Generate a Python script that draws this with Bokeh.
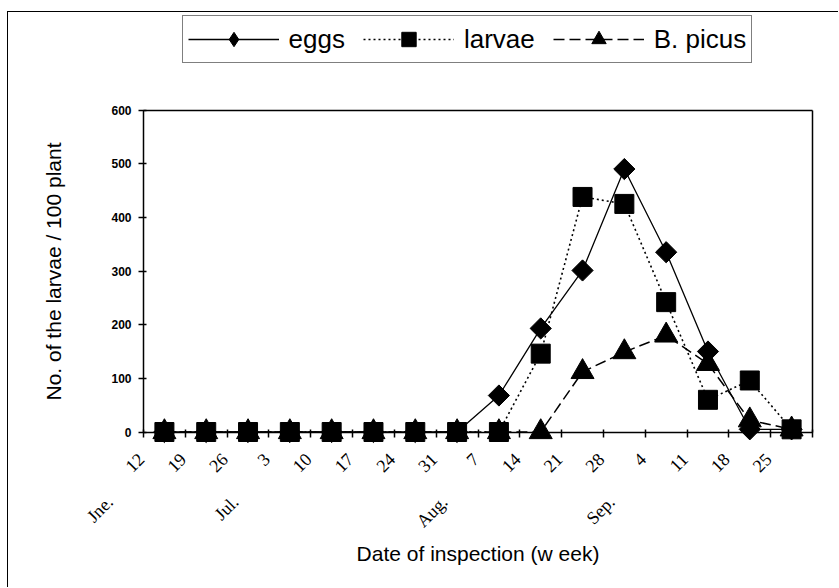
from math import pi
from bokeh.plotting import figure
from bokeh.models import (Range1d, FixedTicker, Legend, LegendItem,
                          ColumnDataSource, LinearAxis)
from bokeh.embed import file_html
from bokeh.resources import INLINE

# ---- data ----
dates = ["12", "19", "26", "3", "10", "17", "24", "31",
         "7", "14", "21", "28", "4", "11", "18", "25"]
months = ["Jne.", "Jul.", "Aug.", "Sep."]
month_at = [0, 3, 8, 12]
eggs = [0, 0, 0, 0, 0, 0, 0, 0, 68, 193, 301, 490, 335, 150, 5, 5]
larvae = [0, 0, 0, 0, 0, 0, 0, 0, 0, 146, 438, 425, 242, 60, 96, 5]
b_picus = [0, 0, 0, 0, 0, 0, 0, 0, 0, 0, 112, 149, 180, 127, 22, 5]
y_ticks = [0, 100, 200, 300, 400, 500, 600]

# ---- layout (pixels) ----
W, H = 830, 575            # canvas == frame
AXIS_LEFT = 135            # y axis position from canvas left
AXIS_TOP = 97.5            # 600-line position from canvas top
PLOT_W, PLOT_H = 669, 322  # plot-area size
LABEL_SHIFT = 0.56         # date labels end left of category centre (categories)
MONTH_SHIFT = 1.3          # month labels end further left (categories)

n = len(dates)
y_max = y_ticks[-1]
cat_px = PLOT_W / n
unit_px = PLOT_H / y_max
x0 = -AXIS_LEFT / cat_px
x1 = x0 + W / cat_px
y1 = y_max + AXIS_TOP / unit_px
y0 = y1 - H / unit_px

x = [i + 0.5 for i in range(n)]

p = figure(frame_width=W, frame_height=H,
           x_range=Range1d(x0, x1), y_range=Range1d(y0, y1),
           output_backend="svg", toolbar_location=None, min_border=0)
p.grid.visible = False
p.outline_line_color = None
p.background_fill_color = "white"
p.border_fill_color = "white"
p.styles = {"margin-left": "7px", "margin-top": "11px",
            "border-top": "1.5px solid black", "border-left": "1.5px solid black"}

SANS = "Liberation Sans"
SERIF = "Liberation Serif"

# x axis: line, ticks between categories, title
xa = p.xaxis[0]
xa.fixed_location = 0
xa.bounds = (0, n)
xa.ticker = FixedTicker(ticks=[], minor_ticks=list(range(n + 1)))
xa.major_tick_line_color = None
xa.major_tick_in = 0
xa.major_tick_out = 0
xa.minor_tick_in = 3
xa.minor_tick_out = 5
xa.minor_tick_line_color = "black"
xa.minor_tick_line_width = 1.5
xa.axis_line_width = 1.5
xa.axis_line_color = "black"
xa.major_label_standoff = 0
xa.major_label_text_font_size = "0px"
xa.axis_label = "Date of inspection (w eek)"
xa.axis_label_text_font = SANS
xa.axis_label_text_font_size = "21px"
xa.axis_label_text_font_style = "normal"
xa.axis_label_text_color = "black"
xa.axis_label_standoff = 104

# date labels
lab_pos = [i + 0.5 - LABEL_SHIFT for i in range(n)]
da = LinearAxis(fixed_location=0, ticker=FixedTicker(ticks=lab_pos),
                major_label_overrides={pos: d for pos, d in zip(lab_pos, dates)},
                major_label_orientation=pi / 4,
                axis_line_color=None, major_tick_line_color=None,
                minor_tick_line_color=None, major_tick_in=0, major_tick_out=0,
                minor_tick_in=0, minor_tick_out=0,
                major_label_standoff=24, major_label_text_font=SERIF,
                major_label_text_font_size="18px", major_label_text_color="black")
p.add_layout(da, "below")

# month labels
month_pos = [i + 0.5 - MONTH_SHIFT for i in month_at]
ma = LinearAxis(fixed_location=0, ticker=FixedTicker(ticks=month_pos),
                major_label_overrides={pos: m for pos, m in zip(month_pos, months)},
                major_label_orientation=pi / 4,
                axis_line_color=None, major_tick_line_color=None,
                minor_tick_line_color=None, major_tick_in=0, major_tick_out=0,
                major_label_standoff=67, major_label_text_font=SERIF,
                major_label_text_font_size="18px", major_label_text_color="black")
p.add_layout(ma, "below")

# y axis
ya = p.yaxis[0]
ya.fixed_location = 0
ya.bounds = (0, y_max)
ya.ticker = FixedTicker(ticks=y_ticks)
ya.major_tick_in = 3
ya.major_tick_out = 5
ya.major_tick_line_width = 1.5
ya.minor_tick_line_color = None
ya.axis_line_width = 1.5
ya.major_label_text_font = SANS
ya.major_label_text_font_style = "bold"
ya.major_label_text_font_size = "12px"
ya.major_label_text_color = "black"
ya.major_label_standoff = 7
ya.axis_label = "No. of the larvae / 100 plant"
ya.axis_label_text_font = SANS
ya.axis_label_text_font_size = "21px"
ya.axis_label_text_font_style = "normal"
ya.axis_label_text_color = "black"
ya.axis_label_standoff = 43

# plot-area border: top and right
ta = LinearAxis(fixed_location=y_max, bounds=(0, n), ticker=FixedTicker(ticks=[]),
                major_tick_line_color=None, minor_tick_line_color=None,
                major_label_text_font_size="0px", axis_line_width=1.5)
p.add_layout(ta, "above")
ra = LinearAxis(fixed_location=n, bounds=(0, y_max), ticker=FixedTicker(ticks=[]),
                major_tick_line_color=None, minor_tick_line_color=None,
                major_label_text_font_size="0px", axis_line_width=1.5)
p.add_layout(ra, "right")

# series
src = ColumnDataSource(dict(x=x, eggs=eggs, larvae=larvae, b_picus=b_picus))
l_e = p.line("x", "eggs", source=src, line_color="black", line_width=1.3)
l_l = p.line("x", "larvae", source=src, line_color="black", line_width=1.6, line_dash="2 3")
l_b = p.line("x", "b_picus", source=src, line_color="black", line_width=1.5, line_dash="11 5")
m_e = p.scatter("x", "eggs", source=src, marker="square", angle=pi / 4, size=15, color="black")
m_l = p.scatter("x", "larvae", source=src, marker="square", size=19, color="black")
m_b = p.scatter("x", "b_picus", source=src, marker="triangle", size=23, color="black")
# diamond key for the legend (zero size in the plot itself)
k_e = p.scatter("x", "eggs", source=src, marker="diamond", size=0, color="black")

# legend
legend = Legend(items=[LegendItem(label="eggs", renderers=[l_e, k_e]),
                       LegendItem(label="larvae", renderers=[l_l, m_l]),
                       LegendItem(label="B. picus", renderers=[l_b, m_b])],
                orientation="horizontal", location=(173.5, H - 51),
                glyph_width=91, glyph_height=36, label_standoff=10, spacing=18,
                padding=5, margin=0,
                label_text_font=SANS, label_text_font_size="26px",
                label_text_color="black",
                border_line_color="black", border_line_width=1.5,
                background_fill_color="white", background_fill_alpha=1.0)
p.add_layout(legend)

open("out.html", "w").write(file_html(p, INLINE))
